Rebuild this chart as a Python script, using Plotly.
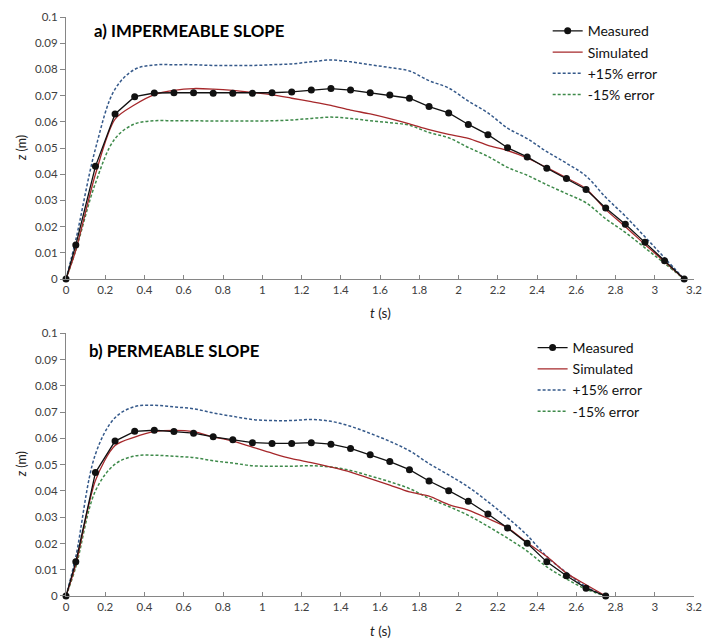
import plotly.graph_objects as go

# ---------------- data ----------------
t_a = [0, 0.05, 0.15, 0.25, 0.35, 0.45, 0.55, 0.65, 0.75, 0.85, 0.95, 1.05, 1.15, 1.25, 1.35,
       1.45, 1.55, 1.65, 1.75, 1.85, 1.95, 2.05, 2.15, 2.25, 2.35, 2.45, 2.55, 2.65, 2.75,
       2.85, 2.95, 3.05, 3.15]
meas_a = [0, 0.013, 0.043, 0.063, 0.0696, 0.0710, 0.0711, 0.0711, 0.0709, 0.0709, 0.0709, 0.0711,
          0.0714, 0.0721, 0.0727, 0.0721, 0.0711, 0.0702, 0.0690, 0.0658, 0.0634, 0.0590, 0.0551,
          0.0501, 0.0466, 0.0423, 0.0384, 0.0342, 0.0271, 0.0209, 0.0140, 0.0070, 0]
sim_a = [0, 0.011, 0.040, 0.061, 0.0665, 0.0704, 0.0720, 0.0727, 0.0725, 0.0720, 0.0712, 0.0703,
         0.0690, 0.0677, 0.0663, 0.0645, 0.0630, 0.0612, 0.0592, 0.0570, 0.0552, 0.0537, 0.0510,
         0.0490, 0.0462, 0.0425, 0.0386, 0.0345, 0.0265, 0.0200, 0.0132, 0.0066, 0]
plus_a = [0, 0.015, 0.0497, 0.0725, 0.0800, 0.0817, 0.0818, 0.0818, 0.0815, 0.0815, 0.0815, 0.0818,
          0.0821, 0.0829, 0.0836, 0.0829, 0.0818, 0.0807, 0.0794, 0.0757, 0.0729, 0.0679, 0.0634,
          0.0576, 0.0536, 0.0486, 0.0442, 0.0393, 0.0312, 0.0240, 0.0161, 0.0081, 0]
minus_a = [0, 0.011, 0.0366, 0.0536, 0.0592, 0.0604, 0.0604, 0.0604, 0.0603, 0.0603, 0.0603, 0.0604,
           0.0607, 0.0613, 0.0618, 0.0613, 0.0604, 0.0597, 0.0587, 0.0559, 0.0539, 0.0502, 0.0468,
           0.0426, 0.0396, 0.0360, 0.0326, 0.0291, 0.0230, 0.0178, 0.0119, 0.0060, 0]

t_b = [0, 0.05, 0.15, 0.25, 0.35, 0.45, 0.55, 0.65, 0.75, 0.85, 0.95, 1.05, 1.15, 1.25, 1.35,
       1.45, 1.55, 1.65, 1.75, 1.85, 1.95, 2.05, 2.15, 2.25, 2.35, 2.45, 2.55, 2.65, 2.75]
meas_b = [0, 0.013, 0.047, 0.059, 0.0627, 0.0631, 0.0626, 0.0620, 0.0606, 0.0595, 0.0584, 0.0581,
          0.0581, 0.0584, 0.0578, 0.0562, 0.0538, 0.0512, 0.0481, 0.0438, 0.0401, 0.0361, 0.0312,
          0.0259, 0.0201, 0.0130, 0.0077, 0.0030, 0]
sim_b = [0, 0.012, 0.044, 0.0573, 0.0605, 0.0626, 0.0631, 0.0626, 0.0606, 0.0590, 0.0567, 0.0544,
         0.0523, 0.0508, 0.0491, 0.0472, 0.0447, 0.0422, 0.0396, 0.0380, 0.0348, 0.0327, 0.0295,
         0.0260, 0.0203, 0.0150, 0.0087, 0.0043, 0]
plus_b = [0, 0.015, 0.054, 0.0679, 0.0721, 0.0726, 0.0720, 0.0713, 0.0697, 0.0684, 0.0672, 0.0668,
          0.0668, 0.0672, 0.0665, 0.0646, 0.0619, 0.0589, 0.0553, 0.0504, 0.0461, 0.0415, 0.0359,
          0.0298, 0.0231, 0.0150, 0.0089, 0.0035, 0]
minus_b = [0, 0.011, 0.040, 0.0502, 0.0533, 0.0536, 0.0532, 0.0527, 0.0515, 0.0506, 0.0496, 0.0494,
           0.0494, 0.0496, 0.0491, 0.0478, 0.0457, 0.0435, 0.0409, 0.0372, 0.0341, 0.0307, 0.0265,
           0.0220, 0.0171, 0.0111, 0.0065, 0.0026, 0]

series_names = ["Measured", "Simulated", "+15% error", "-15% error"]
titles = ["a) IMPERMEABLE SLOPE", "b) PERMEABLE SLOPE"]
x_ticks = [0, 0.2, 0.4, 0.6, 0.8, 1, 1.2, 1.4, 1.6, 1.8, 2, 2.2, 2.4, 2.6, 2.8, 3, 3.2]
y_ticks = [0, 0.01, 0.02, 0.03, 0.04, 0.05, 0.06, 0.07, 0.08, 0.09, 0.1]

# ---------------- styles ----------------
FONT = "Lato, 'Open Sans', sans-serif"
BLACK = "#111111"
RED = "#A6282B"
BLUE = "#35598A"
GREEN = "#3E8A4A"
AX = "#868686"
TXT = "#404040"

fig = go.Figure()

panels = [
    (t_a, meas_a, sim_a, plus_a, minus_a, "x", "y", "legend"),
    (t_b, meas_b, sim_b, plus_b, minus_b, "x2", "y2", "legend2"),
]
for t, m, s, p, n, xa, ya, lg in panels:
    fig.add_trace(go.Scatter(x=t, y=p, name=series_names[2], mode="lines", xaxis=xa, yaxis=ya,
                             legend=lg, legendrank=3,
                             line=dict(color=BLUE, width=1.5, dash="3px,2px", shape="spline", smoothing=1.0)))
    fig.add_trace(go.Scatter(x=t, y=n, name=series_names[3], mode="lines", xaxis=xa, yaxis=ya,
                             legend=lg, legendrank=4,
                             line=dict(color=GREEN, width=1.5, dash="3px,2px", shape="spline", smoothing=1.0)))
    fig.add_trace(go.Scatter(x=t, y=s, name=series_names[1], mode="lines", xaxis=xa, yaxis=ya,
                             legend=lg, legendrank=2,
                             line=dict(color=RED, width=1.3, shape="spline", smoothing=0.8)))
    fig.add_trace(go.Scatter(x=t, y=m, name=series_names[0], mode="lines+markers", xaxis=xa, yaxis=ya,
                             legend=lg, legendrank=1, cliponaxis=False,
                             line=dict(color=BLACK, width=1.3),
                             marker=dict(color=BLACK, size=7)))

xcommon = dict(range=[0, 3.2], tickvals=x_ticks, ticks="inside", ticklen=4, tickcolor=AX,
               showline=True, linecolor=AX, linewidth=1, showgrid=False, zeroline=False,
               tickfont=dict(family=FONT, size=11.5, color=TXT))
ycommon = dict(range=[0, 0.1], tickvals=y_ticks, ticks="outside", ticklen=5, tickcolor=AX,
               showline=True, linecolor=AX, linewidth=1, showgrid=False, zeroline=False,
               tickfont=dict(family=FONT, size=11.5, color=TXT))

legcommon = dict(font=dict(family=FONT, size=14, color="#111111"), bgcolor="rgba(0,0,0,0)",
                 itemwidth=30, tracegroupgap=0, xanchor="left", yanchor="top",
                 traceorder="normal")

fig.update_layout(
    width=712, height=641,
    margin=dict(l=66, r=10, t=14, b=45),
    paper_bgcolor="white", plot_bgcolor="white",
    xaxis=dict(domain=[0, 1], anchor="y", **xcommon),
    yaxis=dict(domain=[0.5474, 1], anchor="x", **ycommon),
    xaxis2=dict(domain=[0, 1], anchor="y2", **xcommon),
    yaxis2=dict(domain=[0, 0.4536], anchor="x2", **ycommon),
    legend=dict(x=0.767, y=1.003, **legcommon),
    legend2=dict(x=0.743, y=0.456, **legcommon),
    showlegend=True,
)

annos = [
    dict(text="<b>" + titles[0] + "</b>", x=0.0409, y=0.9765, xanchor="left", yanchor="middle",
         font=dict(family=FONT, size=16.8, color="#000000")),
    dict(text="<b>" + titles[1] + "</b>", x=0.0335, y=0.4238, xanchor="left", yanchor="middle",
         font=dict(family=FONT, size=16.8, color="#000000")),
    dict(text="<i>z</i> (m)", x=-0.0708, y=0.773, textangle=-90, xanchor="center", yanchor="middle",
         font=dict(family=FONT, size=12.5, color="#222222")),
    dict(text="<i>z</i> (m)", x=-0.0708, y=0.2268, textangle=-90, xanchor="center", yanchor="middle",
         font=dict(family=FONT, size=12.5, color="#222222")),
    dict(text="<i>t</i> (s)", x=0.5, y=0.488, xanchor="center", yanchor="middle",
         font=dict(family=FONT, size=13.5, color="#222222")),
    dict(text="<i>t</i> (s)", x=0.5, y=-0.0613, xanchor="center", yanchor="middle",
         font=dict(family=FONT, size=13.5, color="#222222")),
]
for a in annos:
    a.update(xref="paper", yref="paper", showarrow=False)
    fig.add_annotation(**a)

fig.write_html("out.html")
